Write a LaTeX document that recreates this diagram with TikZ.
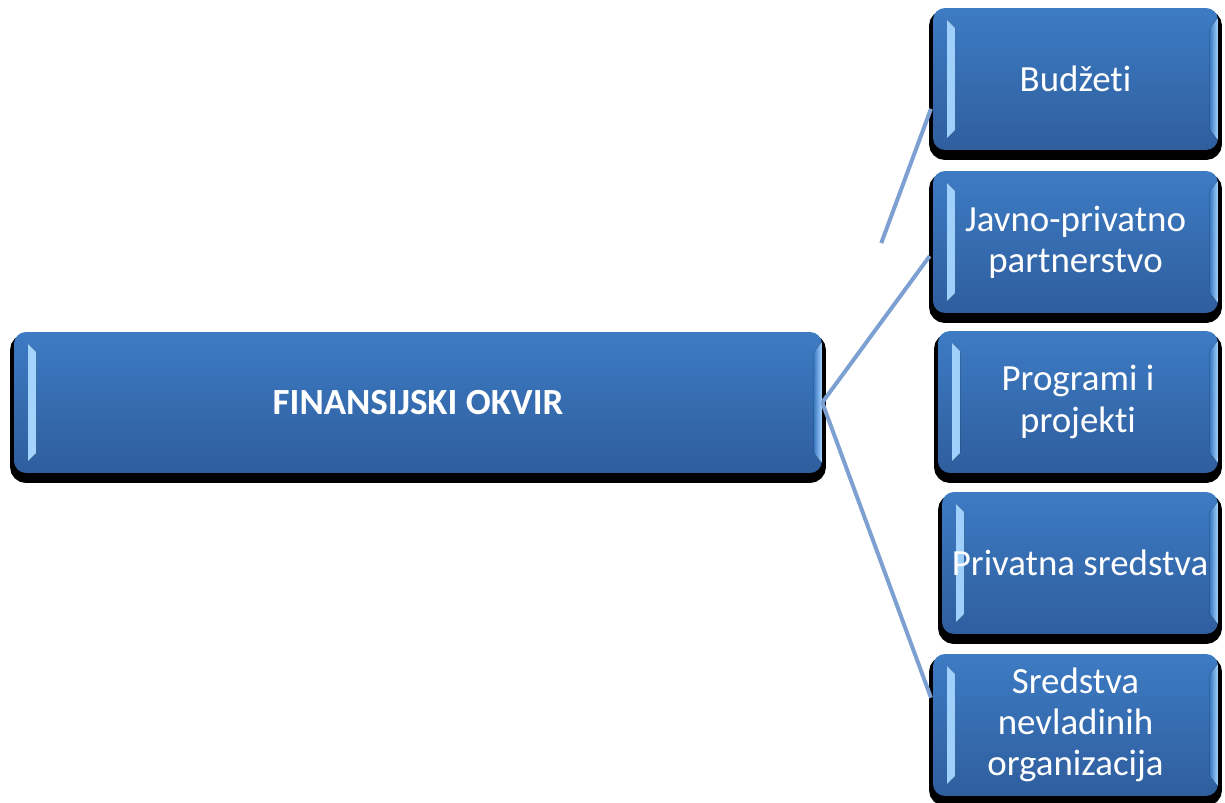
\documentclass[tikz,border=0pt]{standalone}
\usepackage{fontspec}
\setmainfont{Carlito}[Ligatures={NoCommon}]
\usetikzlibrary{calc}
\definecolor{boxtop}{HTML}{3D7BC3}
\definecolor{boxbot}{HTML}{2F5E9E}
\definecolor{bevlight}{HTML}{A6D6FF}
\definecolor{linkblue}{HTML}{7DA0D2}

\begin{document}
\begin{tikzpicture}[x=0.02cm,y=-0.02cm,
  every node/.style={rounded corners=0.24cm,top color=boxtop,bottom color=boxbot,
    text=white,align=flush center,inner sep=0pt,
    font=\fontsize{21}{23.4}\selectfont,
    preaction={fill=black,draw=black,line width=0.16cm,transform canvas={yshift=-0.12cm}},
    path picture={
      \fill[sharp corners,left color=bevlight,right color=boxtop]
        ($(path picture bounding box.north west)+(14,12)$) -- ++(8,8)
        -- ($(path picture bounding box.south west)+(22,-20)$) -- ++(-8,8) -- cycle;
      \fill[sharp corners,left color=boxtop,right color=bevlight]
        ($(path picture bounding box.north east)+(0,10)$) -- ++(-8,10)
        -- ($(path picture bounding box.south east)+(-8,-20)$) -- ++(8,10) -- cycle;
    }},
  mainbox/.style={minimum width=16.16cm,minimum height=2.82cm,
    font=\fontsize{21}{23.4}\selectfont\bfseries},
  sidebox/.style={minimum width=5.7cm,minimum height=2.84cm,text width=5.4cm},
  link/.style={draw=linkblue,line width=0.08cm,shorten >=0.1cm},
]
\useasboundingbox (0,0) rectangle (1225,803);

% the main box
\node[mainbox] (okvir) at (418,402.5) {FINANSIJSKI OKVIR};

% the boxes on the right
\node[sidebox] (budzeti) at (1075.5,79) {Budžeti};
\node[sidebox] (javno) at (1075.5,242) {Javno-privatno\\partnerstvo};
\node[sidebox,minimum width=5.6cm] (programi) at (1078,402) {Programi i\\projekti};
\node[sidebox,minimum width=5.52cm] (privatna) at (1080,563) {Privatna sredstva};
\node[sidebox] (sredstva) at (1075.5,725) {Sredstva\\nevladinih\\organizacija};

% the links
\draw[link,shorten <=3.4cm] (okvir.east) -- (budzeti.190);
\draw[link] (okvir.east) -- (javno.184);
\draw[link] (okvir.east) -- (sredstva.171);
\end{tikzpicture}
\end{document}
